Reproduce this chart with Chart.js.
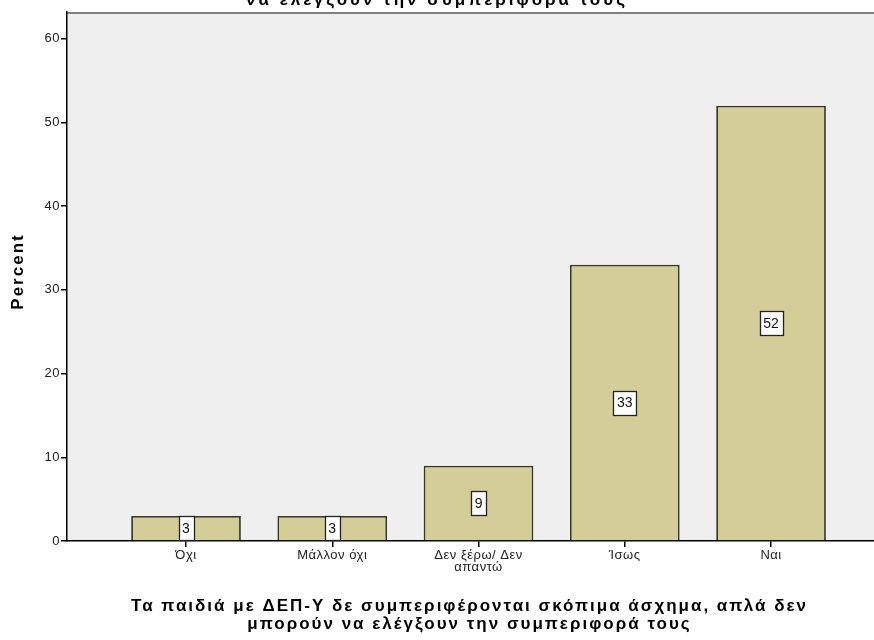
<!DOCTYPE html>
<html>
<head>
<meta charset="utf-8">
<script src="https://cdn.jsdelivr.net/npm/chart.js@4"></script>
<style>
  html, body { margin: 0; padding: 0; background: #fff; overflow: hidden; }
  #wrap { width: 874px; height: 640px; }
</style>
</head>
<body>
<div id="wrap"><canvas id="chart" width="874" height="640"></canvas></div>
<script>
const categories = ['Όχι', 'Μάλλον όχι', ['Δεν ξέρω/ Δεν', 'απαντώ'], 'Ίσως', 'Ναι'];
const percents = [3, 3, 9, 33, 52];
const yTicks = [0, 10, 20, 30, 40, 50, 60];
const topTitle = 'να ελέγξουν την συμπεριφορά τους';
const xTitle = ['Τα παιδιά με ΔΕΠ-Υ δε συμπεριφέρονται σκόπιμα άσχημα, απλά δεν', 'μπορούν να ελέγξουν την συμπεριφορά τους'];
const yTitle = 'Percent';

const FONT = 'Arial, "Liberation Sans", sans-serif';

// grey plot background, darker top frame line, and the widely spaced titles
const frame = {
    id: 'frame',
    beforeDraw(chart) {
        const { ctx, chartArea: a } = chart;
        ctx.save();
        ctx.fillStyle = '#efefef';
        ctx.fillRect(a.left, a.top, a.right - a.left, a.bottom - a.top);
        ctx.strokeStyle = '#808080';
        ctx.lineWidth = 2;
        ctx.beginPath();
        ctx.moveTo(a.left, a.top + 1);
        ctx.lineTo(a.right, a.top + 1);
        ctx.stroke();
        ctx.restore();
        // tick labels are spaced out a little
        ctx.letterSpacing = '0.5px';
    },
    afterDraw(chart) {
        const { ctx, chartArea: a } = chart;
        ctx.save();
        ctx.fillStyle = '#000';
        ctx.textAlign = 'center';

        // title line running off the top edge
        ctx.font = 'bold 17px ' + FONT;
        ctx.letterSpacing = '3px';
        ctx.textBaseline = 'alphabetic';
        ctx.fillText(topTitle, 437, 5);

        // x axis title
        ctx.font = 'bold 17px ' + FONT;
        ctx.letterSpacing = '2px';
        ctx.textBaseline = 'middle';
        const cx = (a.left + a.right) / 2 - 1;
        xTitle.forEach((line, i) => ctx.fillText(line, cx, 606 + i * 18));

        // y axis title
        ctx.translate(18, (a.top + a.bottom) / 2 - 5);
        ctx.rotate(-Math.PI / 2);
        ctx.fillText(yTitle, 0, 0);
        ctx.restore();
    }
};

// boxed value in the middle of each bar
const barValues = {
    id: 'barValues',
    afterDatasetsDraw(chart) {
        const { ctx } = chart;
        const meta = chart.getDatasetMeta(0);
        ctx.save();
        ctx.font = '14px ' + FONT;
        ctx.letterSpacing = '0px';
        ctx.textAlign = 'center';
        ctx.textBaseline = 'middle';
        meta.data.forEach((bar, i) => {
            const txt = String(percents[i]);
            const cy = (bar.y + bar.base) / 2;
            const w = Math.round(ctx.measureText(txt).width + 7);
            const h = 24;
            const x0 = Math.round(bar.x - w / 2) + 0.5;
            const y0 = Math.round(cy - h / 2) + 0.5;
            ctx.fillStyle = '#fff';
            ctx.fillRect(x0, y0, w, h);
            ctx.strokeStyle = '#222';
            ctx.lineWidth = 1.3;
            ctx.strokeRect(x0, y0, w, h);
            ctx.fillStyle = '#111';
            ctx.fillText(txt, bar.x, cy + 1);
        });
        ctx.restore();
    }
};

new Chart(document.getElementById('chart').getContext('2d'), {
    type: 'bar',
    data: {
        datasets: [{
            data: percents.map((v, i) => ({ x: i, y: v })),
            backgroundColor: '#d3ce97',
            borderColor: '#38372a',
            borderWidth: 1.8,
            barPercentage: 0.75,
            categoryPercentage: 1,
        }]
    },
    options: {
        responsive: false,
        animation: false,
        events: [],
        layout: { padding: { top: 12, left: 0, right: 0, bottom: 0 } },
        plugins: {
            legend: { display: false },
            tooltip: { enabled: false },
        },
        scales: {
            x: {
                type: 'linear',
                offset: false,
                min: -0.8137,
                max: 4.704,
                afterBuildTicks: (scale) => {
                    scale.ticks = categories.map((_, i) => ({ value: i }));
                },
                afterFit: (scale) => { scale.height = 99; },
                grid: { display: true, offset: false, drawOnChartArea: false, drawTicks: true, tickLength: 6, color: '#000', lineWidth: 1.5 },
                border: { display: true, color: '#000', width: 1.5 },
                ticks: {
                    autoSkip: false,
                    maxRotation: 0,
                    padding: 2,
                    color: '#222',
                    font: { family: FONT, size: 13, lineHeight: 0.95 },
                    callback: (v) => categories[v],
                },
            },
            y: {
                min: 0,
                max: 63.2,
                afterBuildTicks: (scale) => {
                    scale.ticks = yTicks.map(v => ({ value: v }));
                },
                afterFit: (scale) => { scale.width = 67; },
                grid: { display: true, drawOnChartArea: false, drawTicks: true, tickLength: 6, color: '#000', lineWidth: 1.5 },
                border: { display: true, color: '#000', width: 1.5 },
                ticks: {
                    padding: 1,
                    color: '#222',
                    font: { family: FONT, size: 13 },
                },
            },
        },
    },
    plugins: [frame, barValues],
});
</script>
</body>
</html>
